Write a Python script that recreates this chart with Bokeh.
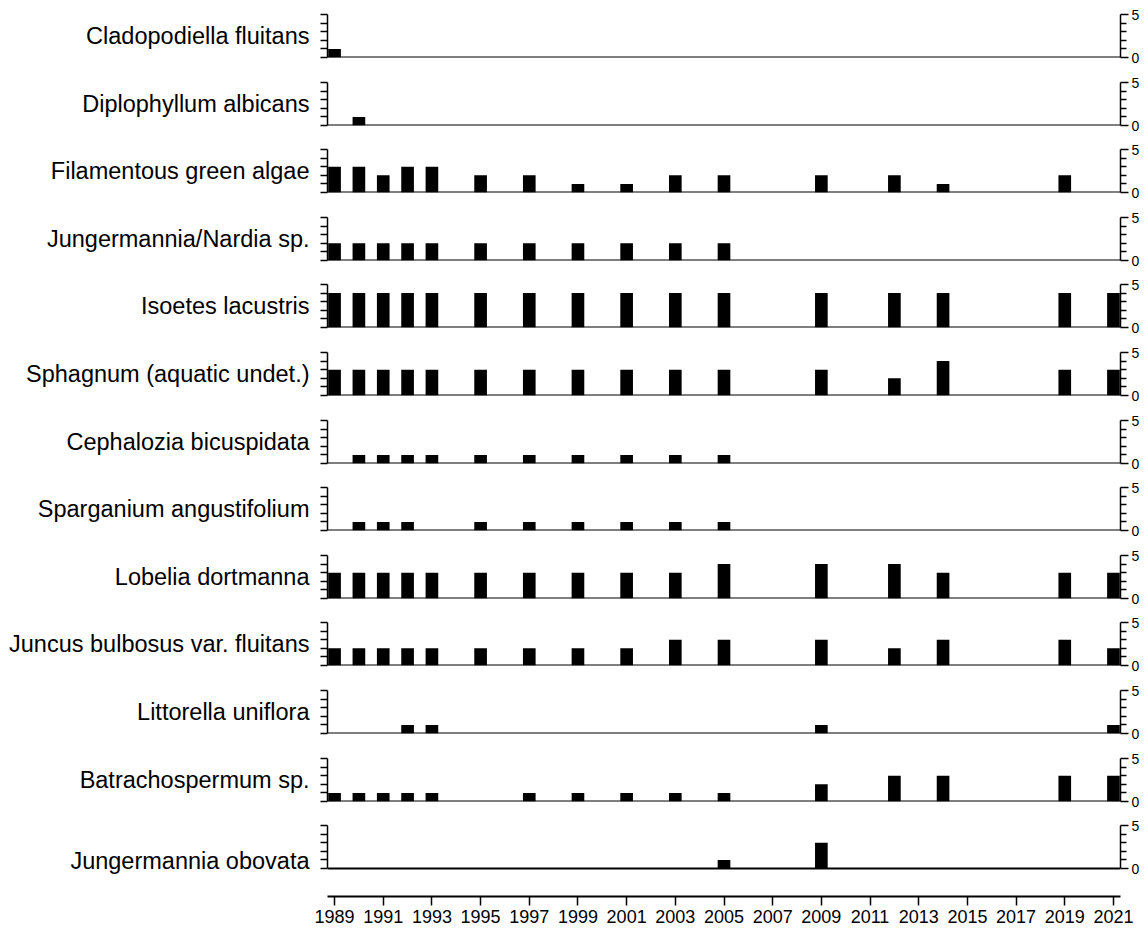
from bokeh.plotting import figure
from bokeh.models import LinearAxis, FixedTicker, Span, Range1d
from bokeh.layouts import column
from bokeh.embed import file_html
from bokeh.resources import INLINE

# ---------------- data ----------------
species = [
    "Cladopodiella fluitans",
    "Diplophyllum albicans",
    "Filamentous green algae",
    "Jungermannia/Nardia sp.",
    "Isoetes lacustris",
    "Sphagnum (aquatic undet.)",
    "Cephalozia bicuspidata",
    "Sparganium angustifolium",
    "Lobelia dortmanna",
    "Juncus bulbosus var. fluitans",
    "Littorella uniflora",
    "Batrachospermum sp.",
    "Jungermannia obovata",
]

survey_years = [1989, 1990, 1991, 1992, 1993, 1995, 1997, 1999, 2001, 2003,
                2005, 2009, 2012, 2014, 2019, 2021]

cladopodiella_fluitans = [1, 0, 0, 0, 0, 0, 0, 0, 0, 0, 0, 0, 0, 0, 0, 0]
diplophyllum_albicans = [0, 1, 0, 0, 0, 0, 0, 0, 0, 0, 0, 0, 0, 0, 0, 0]
filamentous_green_algae = [3, 3, 2, 3, 3, 2, 2, 1, 1, 2, 2, 2, 2, 1, 2, 0]
jungermannia_nardia = [2, 2, 2, 2, 2, 2, 2, 2, 2, 2, 2, 0, 0, 0, 0, 0]
isoetes_lacustris = [4, 4, 4, 4, 4, 4, 4, 4, 4, 4, 4, 4, 4, 4, 4, 4]
sphagnum = [3, 3, 3, 3, 3, 3, 3, 3, 3, 3, 3, 3, 2, 4, 3, 3]
cephalozia_bicuspidata = [0, 1, 1, 1, 1, 1, 1, 1, 1, 1, 1, 0, 0, 0, 0, 0]
sparganium_angustifolium = [0, 1, 1, 1, 0, 1, 1, 1, 1, 1, 1, 0, 0, 0, 0, 0]
lobelia_dortmanna = [3, 3, 3, 3, 3, 3, 3, 3, 3, 3, 4, 4, 4, 3, 3, 3]
juncus_bulbosus = [2, 2, 2, 2, 2, 2, 2, 2, 2, 3, 3, 3, 2, 3, 3, 2]
littorella_uniflora = [0, 0, 0, 1, 1, 0, 0, 0, 0, 0, 0, 1, 0, 0, 0, 1]
batrachospermum = [1, 1, 1, 1, 1, 0, 1, 1, 1, 1, 1, 2, 3, 3, 3, 3]
jungermannia_obovata = [0, 0, 0, 0, 0, 0, 0, 0, 0, 0, 1, 3, 0, 0, 0, 0]

series = [
    cladopodiella_fluitans, diplophyllum_albicans, filamentous_green_algae,
    jungermannia_nardia, isoetes_lacustris, sphagnum, cephalozia_bicuspidata,
    sparganium_angustifolium, lobelia_dortmanna, juncus_bulbosus,
    littorella_uniflora, batrachospermum, jungermannia_obovata,
]

year_ticks = list(range(1989, 2022, 2))
abundance_ticks = [0, 5]
abundance_minor = [1, 2, 3, 4]
abundance_all = [0, 1, 2, 3, 4, 5]

# ---------------- layout ----------------
FONT = "Liberation Sans"
W = 1146
BORDER_LEFT = 327
BORDER_RIGHT = W - BORDER_LEFT - 793
X0, X1 = 1988.71, 2021.29
FRAME_H = 43
STEP = 67.6
FIRST_TOP = 14
AXIS_Y = 896
BAR_W = 0.52

n = len(species)
tops = [round(FIRST_TOP + STEP * i) for i in range(n)]
fig_tops = [0] + [t - 12 for t in tops[1:]]

figs = []
for i, (name, vals) in enumerate(zip(species, series)):
    last = i == n - 1
    bt = tops[i] - fig_tops[i]
    if last:
        frame_h = AXIS_Y - tops[i]
        bb = 36
        h = bt + frame_h + bb
        ymin = 5 - frame_h * 5.0 / FRAME_H
    else:
        h = fig_tops[i + 1] - fig_tops[i]
        bb = h - bt - FRAME_H
        ymin = 0

    p = figure(width=W, height=h, x_range=Range1d(X0, X1), y_range=Range1d(ymin, 5),
               output_backend="svg", toolbar_location=None,
               x_axis_location="below" if last else None, y_axis_location=None,
               min_border_left=BORDER_LEFT, min_border_right=BORDER_RIGHT,
               min_border_top=bt, min_border_bottom=bb,
               outline_line_color=None, background_fill_color="white",
               border_fill_color="white")
    p.xgrid.visible = False
    p.ygrid.visible = False

    la = LinearAxis(ticker=FixedTicker(ticks=[], minor_ticks=abundance_all),
                    bounds=(0, 5), axis_label=name,
                    axis_label_orientation="horizontal",
                    axis_label_text_font=FONT, axis_label_text_font_size="23.5px",
                    axis_label_text_font_style="normal", axis_label_text_color="black",
                    axis_label_standoff=11, major_label_standoff=0,
                    major_tick_out=7, major_tick_in=0, minor_tick_out=7, minor_tick_in=0,
                    axis_line_width=1.5, major_tick_line_width=1.5, minor_tick_line_width=1.3)
    p.add_layout(la, "left")

    ra = LinearAxis(ticker=FixedTicker(ticks=abundance_ticks, minor_ticks=abundance_minor),
                    bounds=(0, 5),
                    major_label_text_font=FONT, major_label_text_font_size="14px",
                    major_label_text_color="black", major_label_standoff=3,
                    major_tick_out=8, major_tick_in=0, minor_tick_out=6, minor_tick_in=0,
                    axis_line_width=1.5, major_tick_line_width=1.5, minor_tick_line_width=1.3)
    p.add_layout(ra, "right")

    p.add_layout(Span(location=0, dimension="width", line_color="black", line_width=2))

    p.vbar(x=survey_years, top=vals, bottom=0, width=BAR_W,
           fill_color="black", line_color=None)

    if last:
        xa = p.xaxis[0]
        xa.ticker = FixedTicker(ticks=year_ticks, minor_ticks=[])
        xa.major_label_text_font = FONT
        xa.major_label_text_font_size = "18px"
        xa.major_label_text_color = "black"
        xa.major_label_standoff = 4
        xa.major_tick_out = 9
        xa.major_tick_in = 0
        xa.axis_line_width = 2
        xa.major_tick_line_width = 1.5

    figs.append(p)

layout = column(*figs, spacing=0)
open("out.html", "w").write(file_html(layout, INLINE))
